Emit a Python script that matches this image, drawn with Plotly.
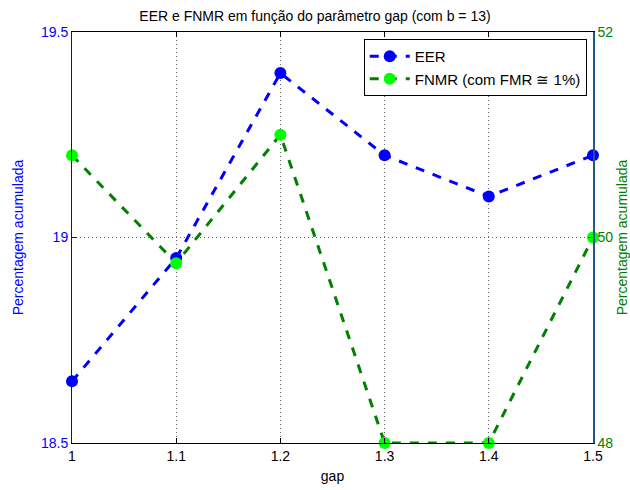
import plotly.graph_objects as go

gap = [1.0, 1.1, 1.2, 1.3, 1.4, 1.5]
eer = [18.65, 18.95, 19.4, 19.2, 19.1, 19.2]
fnmr = [50.8, 49.75, 51.0, 48.0, 48.0, 50.0]

x_ticks = [1, 1.1, 1.2, 1.3, 1.4, 1.5]
x_tick_text = ["1", "1.1", "1.2", "1.3", "1.4", "1.5"]
left_ticks = [18.5, 19, 19.5]
right_ticks = [48, 50, 52]

FONT = "Liberation Sans, Arial, sans-serif"
BLUE = "rgb(0,0,255)"
GREEN = "rgb(0,128,0)"
LIME = "rgb(0,255,0)"
GRID = "rgba(0,0,0,0.6)"

fig = go.Figure()
fig.add_trace(go.Scatter(
    x=gap, y=eer, name="EER", mode="lines+markers",
    line=dict(color=BLUE, width=3, dash="dash"),
    marker=dict(color=BLUE, size=12),
    cliponaxis=False, yaxis="y",
))
fig.add_trace(go.Scatter(
    x=gap, y=fnmr, name="FNMR (com FMR \u2245 1%)", mode="lines+markers",
    line=dict(color=GREEN, width=3, dash="dash"),
    marker=dict(color=LIME, size=12),
    cliponaxis=False, yaxis="y2",
))

fig.update_layout(
    width=630, height=490,
    margin=dict(l=72, r=37, t=32, b=47),
    paper_bgcolor="white", plot_bgcolor="white",
    font=dict(family=FONT, size=13, color="black"),
    title=dict(text="EER e FNMR em função do parâmetro gap (com b = 13)",
               x=0.5, xanchor="center", y=0.968, yanchor="middle",
               font=dict(size=14, color="black")),
    xaxis=dict(
        range=[1, 1.5], tickvals=x_ticks, ticktext=x_tick_text,
        showline=True, linecolor="black", linewidth=1, mirror="ticks",
        ticks="inside", ticklen=5, tickcolor="black",
        showgrid=True, gridcolor=GRID, griddash="1px,3px", gridwidth=1,
        zeroline=False, automargin=False,
        tickfont=dict(size=14, color="black"),
        title=dict(text="gap", font=dict(size=14), standoff=8),
    ),
    yaxis=dict(
        range=[18.5, 19.5], tickvals=left_ticks, ticktext=["18.5", "19", "19.5"],
        showline=True, linecolor=BLUE, linewidth=1,
        ticks="inside", ticklen=5, tickcolor=BLUE,
        showgrid=True, gridcolor=GRID, griddash="1px,3px", gridwidth=1,
        zeroline=False, automargin=False,
        tickfont=dict(size=14, color=BLUE),
        title=dict(text="Percentagem acumulada", font=dict(size=14, color=BLUE), standoff=14),
    ),
    yaxis2=dict(
        range=[48, 52], tickvals=right_ticks, ticktext=["48", "50", "52"],
        overlaying="y", side="right",
        showline=True, linecolor="#1f5a8a", linewidth=1.5,
        ticks="inside", ticklen=5, tickcolor=GREEN,
        showgrid=False, zeroline=False, automargin=False,
        tickfont=dict(size=14, color=GREEN),
        title=dict(text="Percentagem acumulada", font=dict(size=14, color=GREEN), standoff=10),
    ),
    legend=dict(
        x=0.988, xanchor="right", y=0.983, yanchor="top",
        bgcolor="white", bordercolor="black", borderwidth=1,
        font=dict(size=15, color="black"),
        tracegroupgap=0, itemwidth=40,
    ),
    showlegend=True,
)

fig.write_html("out.html")
